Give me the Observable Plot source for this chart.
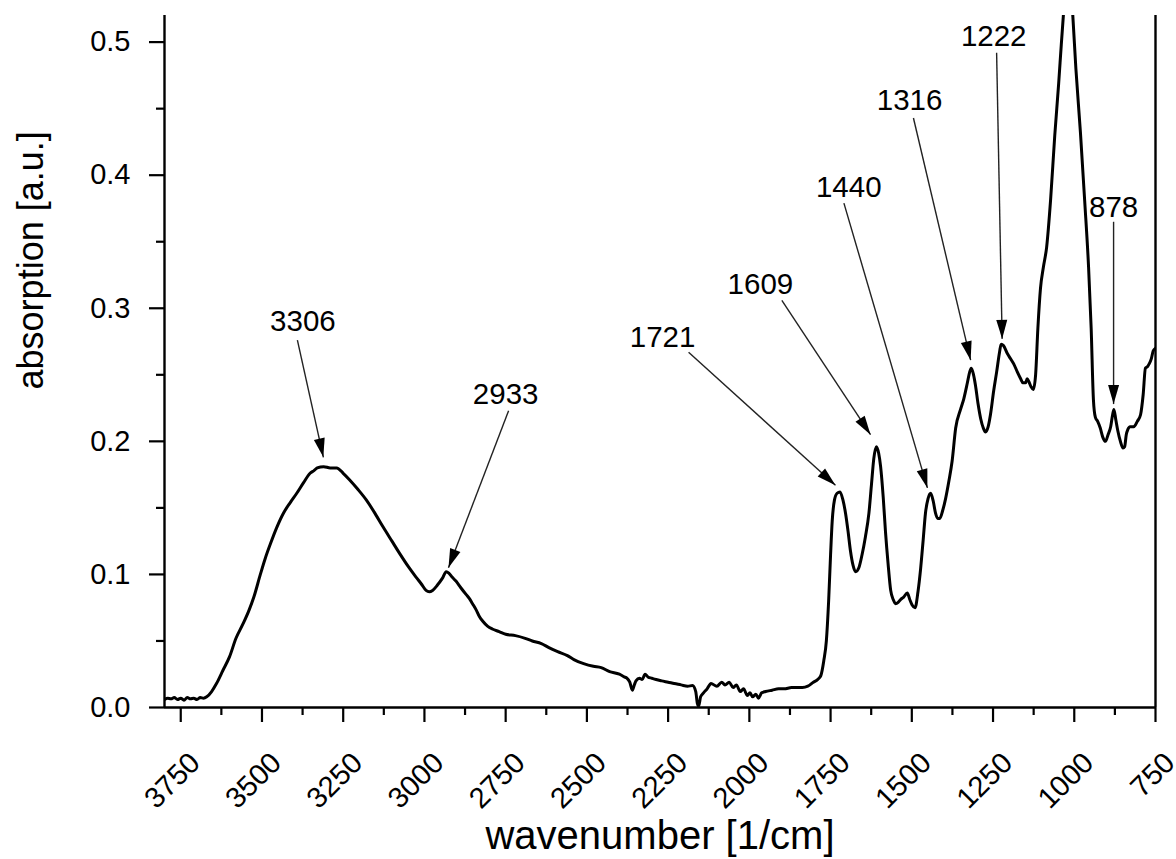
<!DOCTYPE html>
<html>
<head>
<meta charset="utf-8">
<script src="https://cdn.jsdelivr.net/npm/d3@7"></script>
<script src="https://cdn.jsdelivr.net/npm/@observablehq/plot@0.6"></script>
<style>
  html, body { margin: 0; padding: 0; background: #fff; }
  #chart { width: 1176px; height: 859px; }
</style>
</head>
<body>
<div id="chart"></div>
<script>
// ---- spectrum (wavenumber in 1/cm, absorption in a.u.) ----
const wavenumber = [
  3800, 3790, 3780, 3770, 3760, 3750, 3740, 3730, 3720, 3710, 3700, 3690, 3680, 3670, 3655, 3640,
  3620, 3600, 3580, 3560, 3540, 3525, 3505, 3490, 3474, 3455, 3434, 3413, 3393, 3372, 3352, 3340,
  3330, 3310, 3290, 3270, 3250, 3230, 3205, 3179, 3155, 3128, 3100, 3077, 3050, 3026, 3010, 2995,
  2985, 2975, 2960, 2945, 2933, 2925, 2915, 2903, 2888, 2872, 2862, 2852, 2840, 2830, 2821, 2805,
  2791, 2770, 2750, 2720, 2690, 2668, 2640, 2617, 2590, 2560, 2540, 2510, 2480, 2456, 2430, 2400,
  2385, 2377, 2368, 2360, 2354, 2349, 2338, 2330, 2321, 2312, 2300, 2287, 2270, 2250, 2231, 2210,
  2190, 2175, 2165, 2160, 2156, 2150, 2141, 2130, 2118, 2100, 2085, 2075, 2062, 2050, 2040, 2028,
  2018, 2006, 1998, 1990, 1980, 1972, 1962, 1950, 1930, 1910, 1893, 1870, 1850, 1837, 1820, 1803,
  1790, 1780, 1771, 1763, 1756, 1750, 1745, 1738, 1730, 1721, 1712, 1704, 1696, 1689, 1681, 1673,
  1663, 1653, 1643, 1632, 1624, 1617, 1609, 1602, 1596, 1588, 1581, 1573, 1565, 1557, 1550, 1542,
  1535, 1525, 1514, 1506, 1499, 1490, 1481, 1473, 1465, 1458, 1450, 1442, 1434, 1427, 1420, 1414,
  1405, 1396, 1386, 1376, 1365, 1350, 1340, 1329, 1322, 1317, 1310, 1304, 1296, 1288, 1280, 1273,
  1265, 1258, 1248, 1239, 1230, 1225, 1218, 1206, 1196, 1186, 1175, 1165, 1158, 1150, 1145, 1140,
  1133, 1126, 1119, 1112, 1104, 1095, 1085, 1073, 1060, 1048, 1040, 1033, 1026, 1020, 1013, 1005,
  995, 981, 968, 956, 948, 941, 935, 928, 920, 912, 904, 896, 888, 882, 878, 872,
  866, 858, 850, 845, 840, 835, 828, 817, 806, 796, 788, 781, 775, 770, 763, 757, 750
];
const absorption = [
  0.0060, 0.0070, 0.0065, 0.0075, 0.0060, 0.0070, 0.0055, 0.0075, 0.0065, 0.0070, 0.0060, 0.0075, 0.0070, 0.0080, 0.0120, 0.0180,
  0.0280, 0.0380, 0.0520, 0.0620, 0.0730, 0.0830, 0.1000, 0.1120, 0.1230, 0.1350, 0.1460, 0.1540, 0.1610, 0.1690, 0.1760, 0.1780,
  0.1800, 0.1810, 0.1800, 0.1800, 0.1760, 0.1710, 0.1640, 0.1560, 0.1470, 0.1360, 0.1250, 0.1160, 0.1060, 0.0980, 0.0930, 0.0880,
  0.0870, 0.0880, 0.0920, 0.0970, 0.1020, 0.1010, 0.0980, 0.0950, 0.0900, 0.0850, 0.0820, 0.0780, 0.0730, 0.0680, 0.0650, 0.0610,
  0.0590, 0.0570, 0.0550, 0.0540, 0.0520, 0.0500, 0.0480, 0.0450, 0.0420, 0.0390, 0.0360, 0.0330, 0.0310, 0.0300, 0.0270, 0.0250,
  0.0230, 0.0220, 0.0190, 0.0130, 0.0170, 0.0200, 0.0220, 0.0210, 0.0250, 0.0230, 0.0220, 0.0210, 0.0200, 0.0190, 0.0180, 0.0170,
  0.0160, 0.0165, 0.0120, 0.0030, 0.0010, 0.0080, 0.0110, 0.0140, 0.0180, 0.0160, 0.0190, 0.0170, 0.0190, 0.0150, 0.0170, 0.0120,
  0.0140, 0.0090, 0.0110, 0.0080, 0.0100, 0.0070, 0.0110, 0.0120, 0.0130, 0.0140, 0.0140, 0.0150, 0.0150, 0.0150, 0.0160, 0.0190,
  0.0210, 0.0240, 0.0350, 0.0500, 0.0800, 0.1150, 0.1400, 0.1560, 0.1610, 0.1620, 0.1560, 0.1460, 0.1320, 0.1180, 0.1070, 0.1020,
  0.1050, 0.1150, 0.1280, 0.1460, 0.1680, 0.1870, 0.1960, 0.1910, 0.1810, 0.1580, 0.1320, 0.1080, 0.0880, 0.0810, 0.0780, 0.0790,
  0.0810, 0.0830, 0.0860, 0.0810, 0.0770, 0.0750, 0.0870, 0.1040, 0.1260, 0.1460, 0.1570, 0.1610, 0.1550, 0.1460, 0.1420, 0.1420,
  0.1480, 0.1570, 0.1700, 0.1850, 0.2100, 0.2240, 0.2320, 0.2440, 0.2520, 0.2550, 0.2500, 0.2420, 0.2280, 0.2170, 0.2100, 0.2070,
  0.2110, 0.2200, 0.2380, 0.2520, 0.2670, 0.2730, 0.2720, 0.2660, 0.2620, 0.2580, 0.2520, 0.2470, 0.2440, 0.2440, 0.2470, 0.2450,
  0.2410, 0.2390, 0.2500, 0.2850, 0.3150, 0.3310, 0.3460, 0.3810, 0.4300, 0.4690, 0.4980, 0.5220, 0.5500, 0.5650, 0.5580, 0.5220,
  0.4800, 0.4320, 0.3810, 0.3310, 0.2850, 0.2310, 0.2180, 0.2150, 0.2100, 0.2030, 0.2000, 0.2050, 0.2110, 0.2200, 0.2240, 0.2160,
  0.2080, 0.2000, 0.1950, 0.1960, 0.2050, 0.2090, 0.2110, 0.2110, 0.2150, 0.2200, 0.2350, 0.2550, 0.2560, 0.2580, 0.2620, 0.2680, 0.2700
];

// ---- peak annotations ----
const peakLabels = ["3306", "2933", "1721", "1609", "1440", "1316", "1222", "878"];
const labelWn    = [3374, 2750, 2267, 1966, 1694, 1507, 1248, 879];
const labelAbs   = [0.290, 0.235, 0.278, 0.318, 0.391, 0.456, 0.504, 0.376];
const arrowFromWn  = [3391, 2741, 2187, 1900, 1709, 1495, 1239, 879];
const arrowFromAbs = [0.276, 0.223, 0.267, 0.306, 0.379, 0.443, 0.492, 0.365];
const arrowToWn    = [3311, 2926, 1735, 1627, 1452, 1319, 1222, 879];
const arrowToAbs   = [0.188, 0.105, 0.167, 0.205, 0.165, 0.261, 0.277, 0.228];

// ---- axes ----
const xMajorTicks = [3750, 3500, 3250, 3000, 2750, 2500, 2250, 2000, 1750, 1500, 1250, 1000, 750];
const xMinorTicks = [3625, 3375, 3125, 2875, 2625, 2375, 2125, 1875, 1625, 1375, 1125, 875];
const yMajorTicks = [0, 0.1, 0.2, 0.3, 0.4, 0.5];
const yMinorTicks = [0.05, 0.15, 0.25, 0.35, 0.45];
const xTitle = "wavenumber [1/cm]";
const yTitle = "absorption [a.u.]";

// ---- build ----
const W = 1176, H = 859, mL = 164, mR = 21, mT = 15, mB = 152;
const xDomain = [3800, 750], yDomain = [0, 0.52];
const sx = Plot.scale({x: {domain: xDomain, range: [mL, W - mR]}});
const sy = Plot.scale({y: {domain: yDomain, range: [H - mB, mT]}});

const spectrum = wavenumber.map((w, i) => ({w, a: absorption[i]}));
const annots = peakLabels.map((label, i) => {
  const px1 = sx.apply(arrowFromWn[i]), py1 = sy.apply(arrowFromAbs[i]);
  const px2 = sx.apply(arrowToWn[i]), py2 = sy.apply(arrowToAbs[i]);
  const rot = Math.atan2(px2 - px1, -(py2 - py1)) * 180 / Math.PI;
  return {label, lx: labelWn[i], ly: labelAbs[i],
          x1: arrowFromWn[i], y1: arrowFromAbs[i], x2: arrowToWn[i], y2: arrowToAbs[i], rot};
});
const arrowHead = {draw(ctx) { ctx.moveTo(0, 0); ctx.lineTo(-5.5, 19); ctx.lineTo(5.5, 19); ctx.closePath(); }};

const chart = Plot.plot({
  width: W, height: H,
  marginLeft: mL, marginRight: mR, marginTop: mT, marginBottom: mB,
  style: {fontFamily: "'Liberation Sans', Arial, Helvetica, sans-serif", fontSize: "28px", color: "black", background: "white"},
  x: {domain: xDomain, label: null},
  y: {domain: yDomain, label: null},
  marks: [
    Plot.axisX(xMajorTicks, {tickSize: 15, strokeWidth: 2.2, tickFormat: () => "", label: null}),
    Plot.axisX(xMinorTicks, {tickSize: 8, strokeWidth: 2.2, tickFormat: () => "", label: null}),
    Plot.axisY(yMajorTicks, {tickSize: 15, tickPadding: 19, strokeWidth: 2.2, fontSize: 29, tickFormat: d => d.toFixed(1), label: null}),
    Plot.axisY(yMinorTicks, {tickSize: 8, strokeWidth: 2.2, tickFormat: () => "", label: null}),
    Plot.ruleY([0], {strokeWidth: 2.4}),
    Plot.ruleX([3800], {strokeWidth: 2.4}),
    Plot.ruleX([750], {strokeWidth: 2.4}),
    Plot.text(xMajorTicks, {x: d => d, frameAnchor: "bottom", text: d => String(d), rotate: -45,
      textAnchor: "end", lineAnchor: "bottom", dx: 21, dy: 57, fontSize: 29}),
    Plot.line(spectrum, {x: "w", y: "a", strokeWidth: 3, clip: true, curve: "monotone-x", stroke: "black"}),
    Plot.link(annots, {x1: "x1", y1: "y1", x2: "x2", y2: "y2", stroke: "#222", strokeWidth: 1.4}),
    Plot.dot(annots, {x: "x2", y: "y2", symbol: arrowHead, rotate: "rot", fill: "black", stroke: "none", r: 4}),
    Plot.text(annots, {x: "lx", y: "ly", text: "label", fontSize: 29.5, textAnchor: "middle", lineAnchor: "middle"}),
    Plot.text([{t: yTitle, v: 0.336}], {y: "v", frameAnchor: "left", text: "t", rotate: -90, dx: -122,
      textAnchor: "middle", lineAnchor: "bottom", fontSize: 36}),
    Plot.text([xTitle], {frameAnchor: "bottom", text: d => d, dy: 141, lineAnchor: "bottom", fontSize: 40})
  ]
});
document.getElementById("chart").appendChild(chart);
</script>
</body>
</html>
